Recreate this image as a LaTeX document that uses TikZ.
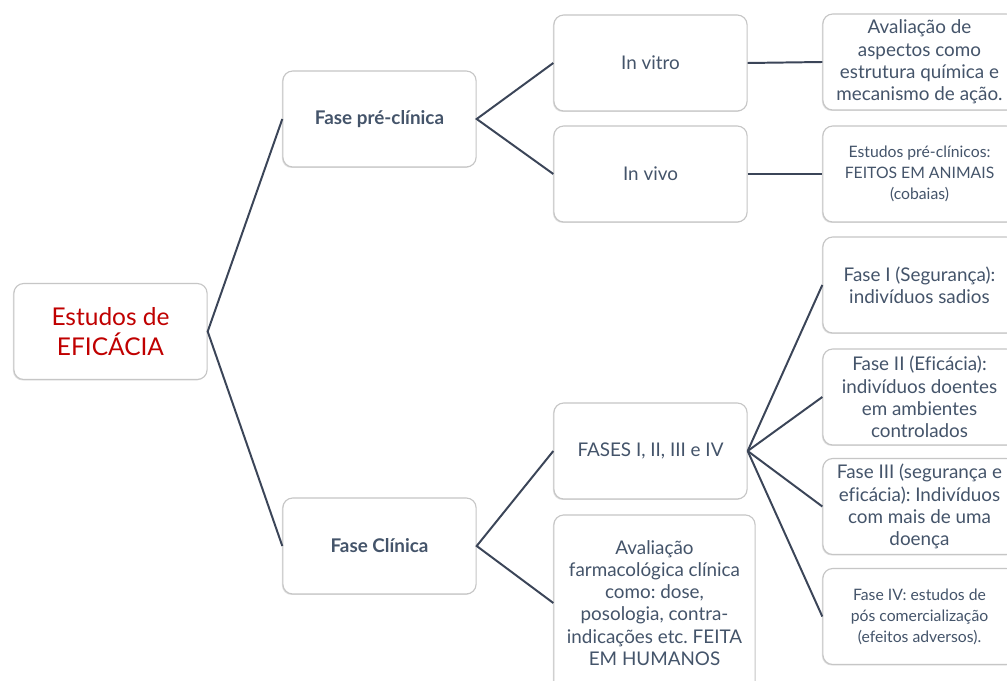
\documentclass[tikz,border=0pt]{standalone}
\usepackage{fontspec}
\setmainfont{Lato}[Ligatures=CommonOff]
\usepackage{tikz}
\usetikzlibrary{positioning,shadows}
\frenchspacing

\definecolor{linkcol}{HTML}{3B4558}
\definecolor{txtcol}{HTML}{44546A}
\definecolor{redcol}{HTML}{C00000}

\tikzset{
  box/.style={draw=gray!45, line width=0.8pt, rounded corners=7pt, fill=white,
    minimum width=4.83cm, minimum height=2.4cm, align=center, text=txtcol,
    font=\fontsize{13.4}{15.8}\selectfont,
    drop shadow={shadow xshift=-0.7pt, shadow yshift=-0.7pt, opacity=0.25}},
  smallbox/.style={box, font=\fontsize{11.2}{15}\selectfont},
  link/.style={draw=linkcol, line width=1.4pt},
}

\begin{document}
\begin{tikzpicture}[x=0.025cm, y=-0.025cm]
    \clip (0,0) rectangle (1007,681);
    \fill[white] (0,0) rectangle (1007,681);

    \node[box, text=redcol, font=\fontsize{17.4}{21.5}\selectfont] (root) at (110.5,331.5) {Estudos de\\EFICÁCIA};

    \node[box, font=\bfseries\fontsize{13.4}{15}\selectfont] (pre) at (379.5,119) {Fase pré-clínica};
    \node[box, font=\bfseries\fontsize{13.4}{15}\selectfont] (clin) at (379.5,546) {Fase Clínica};

    \node[box] (vitro) at (650.5,63) {In vitro};
    \node[box] (vivo) at (650.5,174) {In vivo};
    \node[box] (fases) at (650.5,451) {FASES I, II, III e IV};
    \node[box, minimum width=5.03cm, minimum height=4.4cm] (aval) at (654.5,603)
      {Avaliação\\farmacológica clínica\\como: dose,\\posologia, contra-\\indicações etc. FEITA\\EM HUMANOS};

    \node[box] (quim) at (919.5,62) {Avaliação de\\aspectos como\\estrutura química e\\mecanismo de ação.};
    \node[smallbox] (anim) at (919.5,174) {Estudos pré-clínicos:\\FEITOS EM ANIMAIS\\(cobaias)};
    \node[box] (f1) at (919.5,285) {Fase I (Segurança):\\indivíduos sadios};
    \node[box] (f2) at (919.5,397) {Fase II (Eficácia):\\indivíduos doentes\\em ambientes\\controlados};
    \node[box] (f3) at (919.5,506.5) {Fase III (segurança e\\eficácia): Indivíduos\\com mais de uma\\doença};
    \node[smallbox] (f4) at (919.5,616.5) {Fase IV: estudos de\\pós comercialização\\ (efeitos adversos).};

    % ligações
    \draw[link] (pre.west) -- (root.east) -- (clin.west);
    \draw[link] (vitro.west) -- (pre.east) -- (vivo.west);
    \draw[link] (fases.west) -- (clin.east) -- (aval.west);
    \draw[link] (vitro.east) -- (quim.west);
    \draw[link] (vivo.east) -- (anim.west);
    \foreach \f in {f1,f2,f3,f4}
      \draw[link] (fases.east) -- (\f.west);
\end{tikzpicture}
\end{document}
